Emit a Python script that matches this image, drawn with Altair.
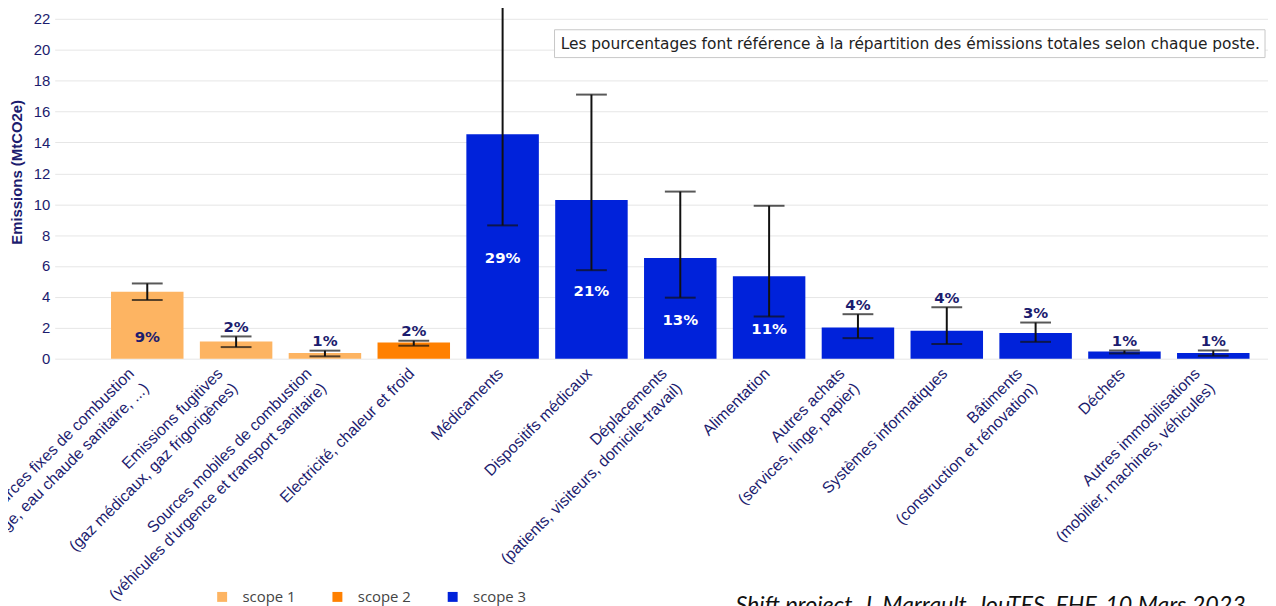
import altair as alt
import pandas as pd

categories = [
    "Sources fixes de combustion\n(chauffage, eau chaude sanitaire, ...)",
    "Emissions fugitives\n(gaz médicaux, gaz frigorigènes)",
    "Sources mobiles de combustion\n(véhicules d'urgence et transport sanitaire)",
    "Electricité, chaleur et froid",
    "Médicaments",
    "Dispositifs médicaux",
    "Déplacements\n(patients, visiteurs, domicile-travail)",
    "Alimentation",
    "Autres achats\n(services, linge, papier)",
    "Systèmes informatiques",
    "Bâtiments\n(construction et rénovation)",
    "Déchets",
    "Autres immobilisations\n(mobilier, machines, véhicules)",
]
scopes = ["scope 1", "scope 1", "scope 1", "scope 2"] + ["scope 3"] * 9
emissions = [4.33, 1.11, 0.37, 1.05, 14.53, 10.28, 6.52, 5.34, 2.02, 1.80, 1.67, 0.47, 0.37]
err_low = [3.80, 0.75, 0.15, 0.84, 8.63, 5.73, 3.95, 2.73, 1.33, 0.95, 1.09, 0.34, 0.19]
err_high = [4.87, 1.44, 0.52, 1.16, 23.1, 17.1, 10.82, 9.90, 2.88, 3.33, 2.34, 0.53, 0.53]
percent_labels = ["9%", "2%", "1%", "2%", "29%", "21%", "13%", "11%", "4%", "4%", "3%", "1%", "1%"]
label_inside = [True, False, False, False, True, True, True, True, False, False, False, False, False]
y_ticks = [0, 2, 4, 6, 8, 10, 12, 14, 16, 18, 20, 22]

scope_names = ["scope 1", "scope 2", "scope 3"]
scope_colors = ["#FDB462", "#FF8000", "#0022DA"]

note_text = "Les pourcentages font référence à la répartition des émissions totales selon chaque poste."
caption_text = "Shift project, J. Marrault, JouTES, FHF, 10 Mars 2023"

NAVY = "#1c1c6e"

df = pd.DataFrame({
    "cat": categories,
    "scope": scopes,
    "val": emissions,
    "lo": err_low,
    "hi": err_high,
    "pct": percent_labels,
    "inside": label_inside,
})

xscale = alt.Scale(domain=categories, paddingInner=0.184, paddingOuter=0.421, align=0.753)
yscale = alt.Scale(domain=[0, 23.1], nice=False, zero=True)

xaxis = alt.Axis(
    title=None, domain=False, ticks=False, grid=False,
    labelAngle=-45, labelAlign="right", labelBaseline="middle",
    labelPadding=12, labelFontSize=16, labelFont="Liberation Sans",
    labelOffset=alt.condition("indexof(datum.value, '\\n') >= 0", alt.value(-16), alt.value(-2)),
    labelColor=NAVY, labelLimit=1000, labelOverlap=False, labelLineHeight=21,
    labelExpr="split(datum.label, '\\n')",
)
yaxis = alt.Axis(
    title="Emissions (MtCO2e)", values=y_ticks,
    domain=False, ticks=False, grid=True, gridColor="#e6e6e6", gridWidth=1,
    labelFontSize=15, labelFont="Liberation Sans", labelColor=NAVY, labelPadding=5,
    labelOverlap=False,
    titleFont="Liberation Sans", titleFontSize=15, titleFontWeight="bold", titleColor=NAVY,
    titleX=-38, titleY=171, titleAngle=-90, titleAlign="center", titleBaseline="middle",
)

base = alt.Chart(df).encode(x=alt.X("cat:N", sort=categories, scale=xscale, axis=xaxis))

bars = base.mark_bar().encode(
    y=alt.Y("val:Q", scale=yscale, axis=yaxis),
    color=alt.Color(
        "scope:N",
        scale=alt.Scale(domain=scope_names, range=scope_colors),
        legend=alt.Legend(
            title=None, orient="none", direction="horizontal",
            legendX=161, legendY=591, padding=0,
            symbolType="square", symbolSize=100, symbolStrokeWidth=0,
            labelFont="Open Sans", labelFontSize=15, labelColor="#444444",
            labelOffset=13, columnPadding=34,
        ),
    ),
)

rules = base.mark_rule(color="#111111", strokeWidth=2).encode(
    y=alt.Y("lo:Q", scale=yscale, axis=yaxis), y2="hi:Q"
)
cap_hi = base.mark_tick(color="#111111", size=31, thickness=2).encode(
    y=alt.Y("hi:Q", scale=yscale, axis=yaxis)
)
cap_lo = base.mark_tick(color="#111111", size=31, thickness=2).encode(
    y=alt.Y("lo:Q", scale=yscale, axis=yaxis)
)

text_in = base.transform_filter("datum.inside").transform_calculate(
    mid="datum.val / 2"
).mark_text(
    font="DejaVu Sans", fontWeight="bold", fontSize=15, dy=12, baseline="middle"
).encode(
    y=alt.Y("mid:Q", scale=yscale, axis=yaxis),
    text="pct:N",
    color=alt.condition("datum.scope == 'scope 3'", alt.value("white"), alt.value(NAVY)),
)

text_out = base.transform_filter("!datum.inside").mark_text(
    font="DejaVu Sans", fontWeight="bold", fontSize=15, dy=-9.5, baseline="middle", color=NAVY
).encode(y=alt.Y("hi:Q", scale=yscale, axis=yaxis), text="pct:N")

note_df = pd.DataFrame({"note": [note_text]})
note_box = alt.Chart(note_df).mark_rect(fill="white", stroke="#c8c8c8", strokeWidth=1).encode(
    x=alt.value(503), x2=alt.value(1218), y=alt.value(28), y2=alt.value(56)
)
note = alt.Chart(note_df).mark_text(
    font="DejaVu Sans", fontSize=15.5, color="#222222", align="center", baseline="middle"
).encode(x=alt.value(861), y=alt.value(42), text="note:N")

cap_df = pd.DataFrame({"cap": [caption_text]})
caption = alt.Chart(cap_df).mark_text(
    font="Lato", fontStyle="italic", fontSize=23.4, color="#111111", align="left", baseline="alphabetic"
).encode(x=alt.value(685), y=alt.value(615), text="cap:N")

chart = alt.layer(
    bars, rules, cap_hi, cap_lo, text_in, text_out, note_box, note, caption
).properties(
    width=1221, height=359,
    autosize=alt.AutoSizeParams(type="none"),
    padding={"left": 47, "top": -8, "right": 0, "bottom": 247},
).configure_view(stroke=None)

chart.save("out.html", embed_options={"renderer": "svg", "actions": False})
